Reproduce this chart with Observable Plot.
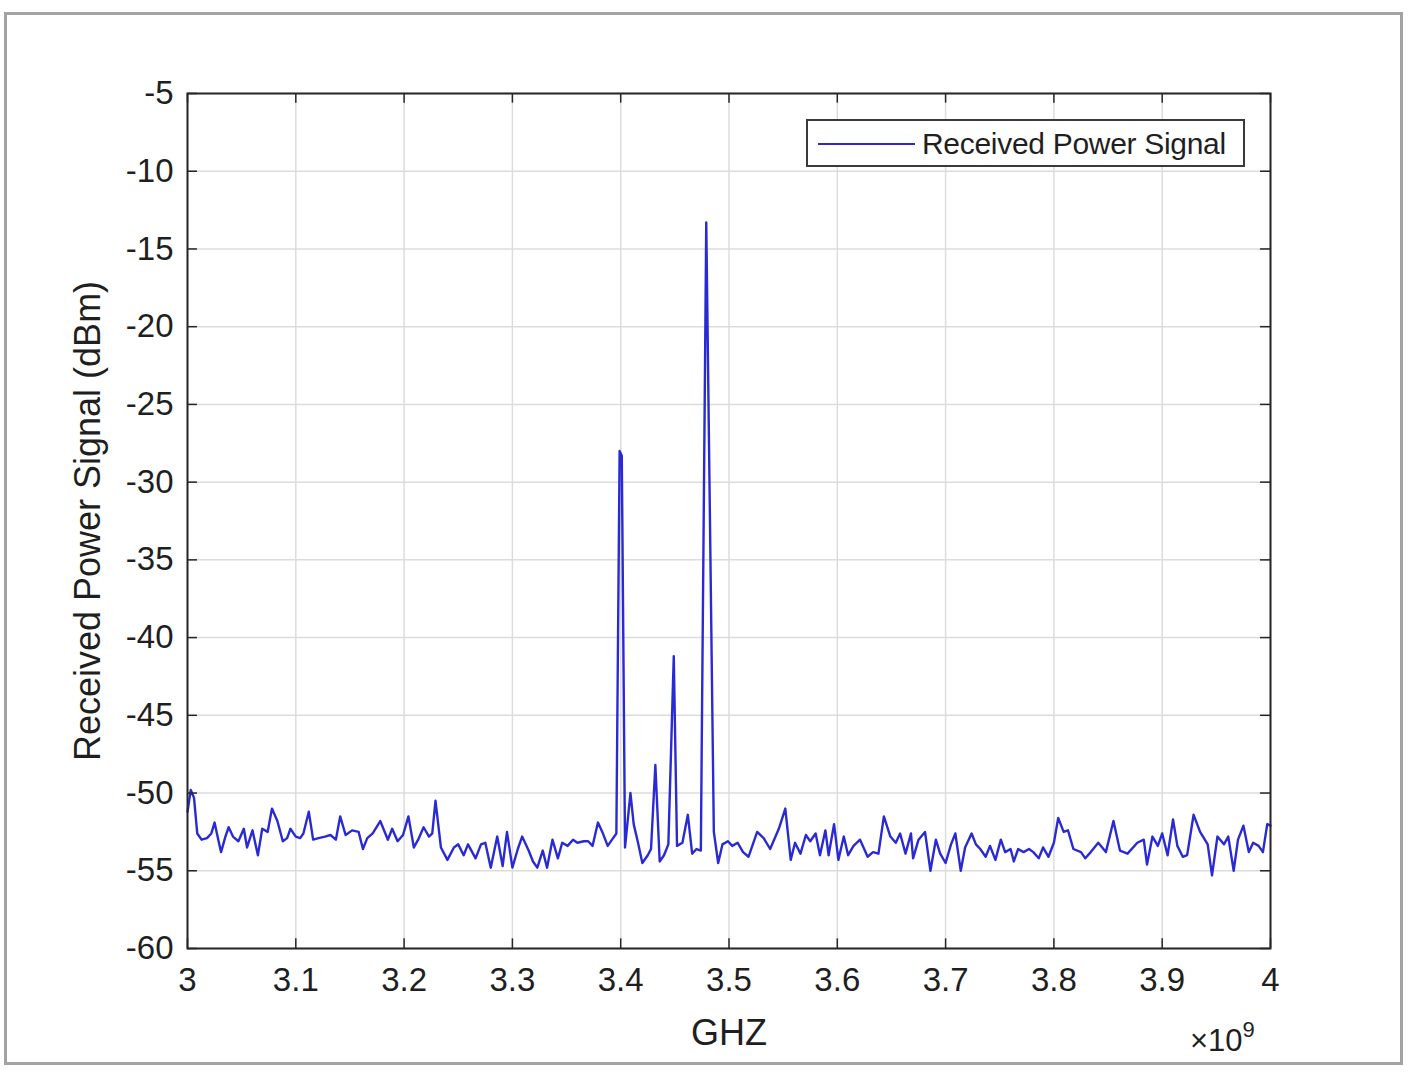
<!DOCTYPE html>
<html>
<head>
<meta charset="utf-8">
<script src="https://cdn.jsdelivr.net/npm/d3@7"></script>
<script src="https://cdn.jsdelivr.net/npm/@observablehq/plot@0.6"></script>
<style>
  html, body { margin: 0; padding: 0; background: #fff; }
  #wrap { position: relative; width: 1417px; height: 1081px; overflow: hidden; font-family: "Liberation Sans", Arial, sans-serif; color: #1f1f1f; }
  #outer { position: absolute; left: 4px; top: 12px; width: 1399px; height: 1053px; border: 3px solid #a3a3a3; box-sizing: border-box; }
  #chart { position: absolute; left: 0; top: 0; }
  #legend { position: absolute; left: 806px; top: 119px; width: 439px; height: 48px; box-sizing: border-box; border: 2px solid #3a3a3a; background: #fff; }
  #legend .ln { position: absolute; left: 10px; top: 22px; width: 97px; height: 2px; background: #2a2ad4; }
  #legend .tx { position: absolute; left: 114px; top: 7px; font-size: 30px; line-height: 32px; white-space: nowrap; letter-spacing: -0.3px; }
  #expo { position: absolute; left: 1190px; top: 1020px; font-size: 31px; white-space: nowrap; }
  #expo sup { font-size: 22px; position: relative; top: -3px; }
</style>
</head>
<body>
<div id="wrap">
  <div id="outer"></div>
  <div id="chart"></div>
  <div id="legend"><div class="ln"></div><div class="tx">Received Power Signal</div></div>
  <div id="expo">×10<sup>9</sup></div>
</div>
<script>
// Frequency (GHz, axis shown ×10^9) and received power (dBm)
const freqGHz = [
  3.000,3.003,3.006,3.009,3.013,3.018,3.022,3.025,3.029,3.031,3.035,3.038,3.042,3.047,3.052,3.055,3.060,3.065,3.069,3.074,
  3.078,3.083,3.088,3.092,3.095,3.100,3.104,3.107,3.112,3.116,3.121,3.127,3.132,3.137,3.141,3.146,3.152,3.158,3.162,3.166,
  3.171,3.178,3.185,3.189,3.194,3.199,3.204,3.209,3.213,3.218,3.223,3.226,3.229,3.234,3.240,3.246,3.250,3.255,3.259,3.266,
  3.271,3.275,3.280,3.286,3.291,3.295,3.300,3.305,3.309,3.315,3.319,3.323,3.328,3.332,3.337,3.342,3.346,3.351,3.356,3.360,
  3.366,3.370,3.374,3.379,3.383,3.388,3.392,3.396,3.399,3.401,3.404,3.409,3.412,3.416,3.420,3.425,3.428,3.432,3.436,3.440,
  3.444,3.449,3.452,3.457,3.462,3.466,3.470,3.474,3.479,3.486,3.490,3.494,3.499,3.503,3.508,3.513,3.518,3.522,3.526,3.532,
  3.538,3.546,3.552,3.557,3.561,3.566,3.571,3.575,3.580,3.584,3.589,3.592,3.597,3.601,3.606,3.610,3.615,3.621,3.628,3.633,
  3.638,3.643,3.649,3.654,3.658,3.663,3.668,3.670,3.675,3.681,3.686,3.691,3.695,3.700,3.705,3.709,3.714,3.718,3.724,3.728,
  3.732,3.737,3.741,3.746,3.751,3.755,3.760,3.763,3.767,3.772,3.777,3.781,3.786,3.790,3.795,3.800,3.804,3.809,3.813,3.818,
  3.825,3.829,3.834,3.841,3.848,3.855,3.861,3.868,3.877,3.883,3.886,3.891,3.896,3.900,3.905,3.910,3.914,3.919,3.923,3.929,
  3.935,3.942,3.946,3.951,3.957,3.961,3.966,3.970,3.975,3.980,3.984,3.989,3.993,3.997,4.000
];
const powerDbm = [
  -51.2,-49.8,-50.3,-52.6,-53.0,-52.9,-52.6,-51.9,-53.2,-53.8,-52.8,-52.2,-52.8,-53.1,-52.3,-53.5,-52.4,-54.0,-52.3,-52.5,
  -51.0,-51.8,-53.1,-52.9,-52.3,-52.8,-52.9,-52.6,-51.2,-53.0,-52.9,-52.8,-52.7,-53.0,-51.5,-52.7,-52.4,-52.5,-53.6,-52.9,
  -52.6,-51.8,-53.0,-52.3,-53.1,-52.7,-51.5,-53.5,-53.0,-52.2,-52.8,-52.6,-50.5,-53.5,-54.3,-53.5,-53.3,-54.0,-53.3,-54.2,
  -53.3,-53.2,-54.8,-52.8,-54.7,-52.5,-54.8,-53.6,-52.8,-53.7,-54.4,-54.8,-53.7,-54.8,-53.0,-54.2,-53.2,-53.4,-53.0,-53.2,
  -53.1,-53.1,-53.4,-51.9,-52.5,-53.4,-53.0,-52.6,-28.0,-28.3,-53.5,-50.0,-52.0,-53.2,-54.5,-54.0,-53.6,-48.2,-54.4,-54.0,
  -53.3,-41.2,-53.4,-53.2,-51.4,-53.9,-53.6,-53.7,-13.3,-52.5,-54.5,-53.3,-53.1,-53.4,-53.2,-53.8,-54.1,-53.3,-52.5,-52.9,
  -53.6,-52.3,-51.0,-54.3,-53.2,-53.9,-52.7,-53.1,-52.6,-54.0,-52.4,-54.0,-52.0,-54.3,-52.8,-54.0,-53.4,-53.0,-54.1,-53.8,
  -53.9,-51.5,-52.8,-53.2,-52.6,-53.9,-52.6,-54.2,-53.0,-52.5,-55.0,-53.0,-53.9,-54.5,-53.3,-52.6,-55.0,-53.5,-52.6,-53.3,
  -53.6,-54.1,-53.4,-54.3,-53.0,-53.8,-53.6,-54.4,-53.6,-53.8,-53.6,-53.8,-54.2,-53.5,-54.1,-53.2,-51.6,-52.5,-52.4,-53.6,
  -53.8,-54.2,-53.8,-53.2,-53.8,-51.8,-53.7,-53.9,-53.2,-53.0,-54.6,-52.8,-53.4,-52.6,-54.0,-51.7,-53.4,-54.1,-54.0,-51.4,
  -52.5,-53.3,-55.3,-52.8,-53.3,-52.8,-55.0,-53.0,-52.1,-53.8,-53.2,-53.4,-53.8,-52.0,-52.1
];
const xTicks = [3, 3.1, 3.2, 3.3, 3.4, 3.5, 3.6, 3.7, 3.8, 3.9, 4];
const yTicks = [-60, -55, -50, -45, -40, -35, -30, -25, -20, -15, -10, -5];

const data = freqGHz.map((f, i) => ({f, p: powerDbm[i]}));

const axisColor = "#262626";
const textColor = "#1f1f1f";
const gridColor = "#dcdcdc";
const tickLenY = 0.62;   // inward tick length in dBm units
const tickLenX = 0.0092; // inward tick length in GHz units

const chart = Plot.plot({
  width: 1417,
  height: 1081,
  marginLeft: 187,
  marginRight: 147,
  marginTop: 93,
  marginBottom: 133,
  style: {fontFamily: "'Liberation Sans', Arial, sans-serif", fontSize: "33px", color: textColor, background: "transparent"},
  x: {domain: [3, 4]},
  y: {domain: [-60, -5]},
  marks: [
    Plot.gridX(xTicks, {stroke: gridColor, strokeOpacity: 1, strokeWidth: 1.5}),
    Plot.gridY(yTicks, {stroke: gridColor, strokeOpacity: 1, strokeWidth: 1.5}),
    Plot.line(data, {x: "f", y: "p", stroke: "#2a2ad4", strokeWidth: 2.4, curve: "linear", strokeLinejoin: "round"}),
    // inward ticks (bottom, top, left, right)
    Plot.ruleX(xTicks, {x: d => d, y1: () => -60, y2: () => -60 + tickLenY, stroke: axisColor, strokeWidth: 1.5}),
    Plot.ruleX(xTicks, {x: d => d, y1: () => -5, y2: () => -5 - tickLenY, stroke: axisColor, strokeWidth: 1.5}),
    Plot.ruleY(yTicks, {y: d => d, x1: () => 3, x2: () => 3 + tickLenX, stroke: axisColor, strokeWidth: 1.5}),
    Plot.ruleY(yTicks, {y: d => d, x1: () => 4, x2: () => 4 - tickLenX, stroke: axisColor, strokeWidth: 1.5}),
    Plot.frame({stroke: axisColor, strokeWidth: 2}),
    Plot.axisX(xTicks, {
      tickSize: 0, tickPadding: 19, tickFormat: d => String(d), fontSize: 33,
      label: "GHZ", labelAnchor: "center", labelOffset: 96, labelArrow: "none"
    }),
    Plot.axisY(yTicks, {
      tickSize: 0, tickPadding: 14, tickFormat: d => String(d), fontSize: 33,
      label: "Received Power Signal (dBm)", labelAnchor: "center", labelOffset: 113, labelArrow: "none"
    })
  ]
});
// Axis titles are a touch larger than tick labels (MATLAB style)
chart.querySelectorAll("g[aria-label='x-axis label'] text, g[aria-label='y-axis label'] text").forEach(t => t.setAttribute("font-size", 36));
document.getElementById("chart").appendChild(chart);
</script>
</body>
</html>
